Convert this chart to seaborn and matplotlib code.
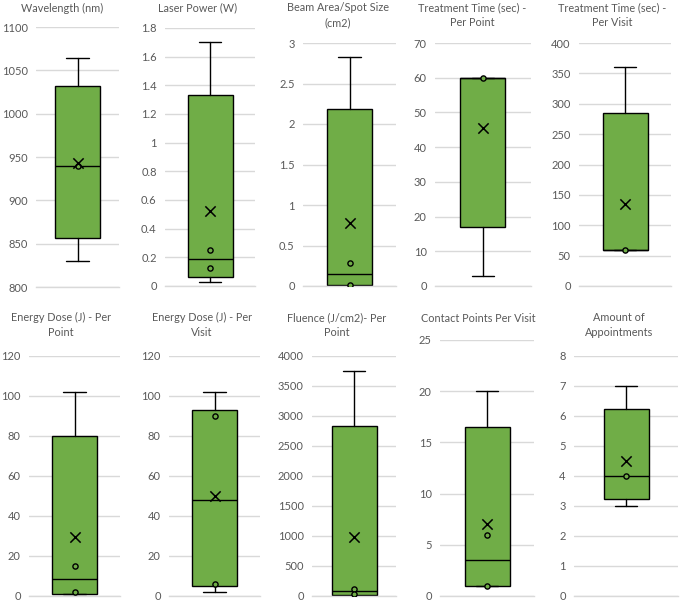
import numpy as np
import matplotlib
matplotlib.use('Agg')
import matplotlib.pyplot as plt
import seaborn as sns
import pandas as pd

sns.set_style("whitegrid")
plt.rcParams['font.family'] = ['Lato', 'DejaVu Sans']

# ── Data ─────────────────────────────────────────────────────
titles = ['Wavelength (nm)', 'Laser Power (W)', 'Beam Area/Spot Size\n(cm2)',
          'Treatment Time (sec) -\nPer Point', 'Treatment Time (sec) -\nPer Visit',
          'Energy Dose (J) - Per\nPoint', 'Energy Dose (J) - Per\nVisit',
          'Fluence (J/cm2)- Per\nPoint', 'Contact Points Per Visit',
          'Amount of\nAppointments']
whis_lo = [830, 0.03, 0.0, 3, 60, 1, 2, 0, 1, 3]
q1      = [857, 0.06, 0.01, 17, 60, 1, 5, 10, 1, 3.25]
median  = [940, 0.185, 0.15, 60, 60, 8.5, 48, 90, 3.5, 4]
q3      = [1032, 1.335, 2.18, 60, 285, 80, 93, 2830, 16.5, 6.25]
whis_hi = [1064, 1.7, 2.83, 60, 360, 102, 102, 3750, 20, 7]
means   = [943, 0.525, 0.78, 45.5, 135, 29.5, 50, 990, 7, 4.5]
inner   = [[940], [0.25, 0.125], [0.28, 0.01], [60], [60],
           [15, 2], [90, 6], [120, 40], [6, 1], [4]]
y_min   = [800, 0, 0, 0, 0, 0, 0, 0, 0, 0]
y_max   = [1100, 1.8, 3, 70, 400, 120, 120, 4000, 25, 8]
y_step  = [50, 0.2, 0.5, 10, 50, 20, 20, 500, 5, 1]

# ── Layout (pixels) ──────────────────────────────────────────
W, H = 680, 604
ax_left  = [36, 165, 303, 435, 579, 29, 169, 312, 440, 574]
ax_right = [119, 255, 396, 531, 671, 120, 260, 396, 534, 678]
ax_top   = [27, 28, 43, 43, 43, 356, 356, 356, 340, 356]
ax_bot   = [287, 286, 286, 286, 286, 596, 596, 596, 596, 596]
title_x  = [62, 198, 338, 472, 612, 61, 202, 337, 478, 619]
title_y  = [8, 8, 15, 15, 15, 325, 325, 325, 319, 325]

green = '#70AD47'
grid_c = '#D9D9D9'
text_c = '#595959'
box_px = 45

fig = plt.figure(figsize=(W / 100, H / 100), dpi=100)

for i in range(10):
    l, r, t, b = ax_left[i], ax_right[i], ax_top[i], ax_bot[i]
    ax = fig.add_axes([l / W, 1 - b / H, (r - l) / W, (b - t) / H])
    ax.set_facecolor('white')
    stats = [{'whislo': whis_lo[i], 'q1': q1[i], 'med': median[i],
              'q3': q3[i], 'whishi': whis_hi[i], 'fliers': []}]
    width = 2 * box_px / (r - l)
    ax.bxp(stats, positions=[0], widths=width, patch_artist=True,
           showfliers=False, manage_ticks=False,
           boxprops=dict(facecolor=green, edgecolor='black', linewidth=1.0),
           medianprops=dict(color='black', linewidth=1.0),
           whiskerprops=dict(color='black', linewidth=1.0),
           capprops=dict(color='black', linewidth=1.0), capwidths=width * 0.5)

    pts = pd.DataFrame({'x': [0] * len(inner[i]), 'y': inner[i]})
    sns.scatterplot(data=pts, x='x', y='y', ax=ax, marker='o', s=14,
                    facecolor=green, edgecolor='black', linewidth=1.0, zorder=5)
    mn = pd.DataFrame({'x': [0], 'y': [means[i]]})
    sns.scatterplot(data=mn, x='x', y='y', ax=ax, marker='x', s=55,
                    color='black', linewidth=1.1, zorder=6)

    ax.set_xlim(-1, 1)
    ax.set_ylim(y_min[i], y_max[i])
    ticks = np.arange(y_min[i], y_max[i] + y_step[i] / 2, y_step[i])
    ax.set_yticks(ticks)
    ax.set_yticklabels([f'{v:g}' for v in ticks])
    ax.set_xticks([])
    ax.set_xlabel('')
    ax.set_ylabel('')
    ax.grid(axis='y', color=grid_c, linewidth=1.0)
    ax.grid(axis='x', visible=False)
    ax.tick_params(axis='y', length=0, pad=6, labelsize=8, labelcolor=text_c)
    for s in ['left', 'right', 'top']:
        ax.spines[s].set_visible(False)
    ax.spines['bottom'].set_color(grid_c)
    ax.spines['bottom'].set_linewidth(1.0)

    fig.text(title_x[i] / W, 1 - title_y[i] / H, titles[i], ha='center',
             va='center', fontsize=7.8, color=text_c, linespacing=1.45)

fig.savefig('out.png', dpi=100)
